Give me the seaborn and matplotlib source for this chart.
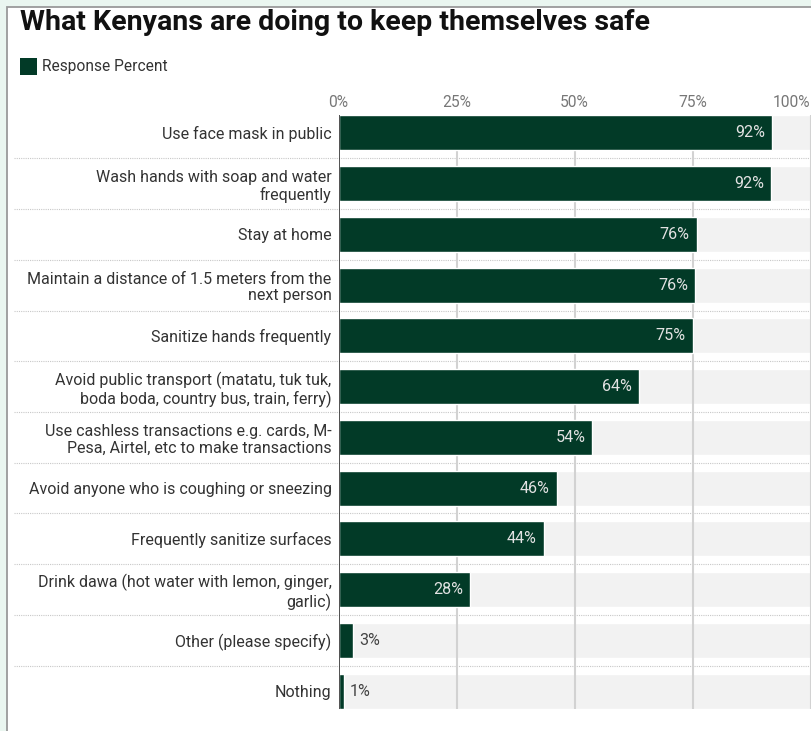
import matplotlib
matplotlib.use("Agg")
import matplotlib.pyplot as plt
import matplotlib.transforms as mtransforms
from matplotlib.patches import Rectangle
import seaborn as sns
import pandas as pd

categories = [
    "Use face mask in public",
    "Wash hands with soap and water\nfrequently",
    "Stay at home",
    "Maintain a distance of 1.5 meters from the\nnext person",
    "Sanitize hands frequently",
    "Avoid public transport (matatu, tuk tuk,\nboda boda, country bus, train, ferry)",
    "Use cashless transactions e.g. cards, M-\nPesa, Airtel, etc to make transactions",
    "Avoid anyone who is coughing or sneezing",
    "Frequently sanitize surfaces",
    "Drink dawa (hot water with lemon, ginger,\ngarlic)",
    "Other (please specify)",
    "Nothing",
]
values = [91.9, 91.6, 75.9, 75.6, 75.1, 63.6, 53.8, 46.2, 43.5, 27.9, 3.1, 1.1]
labels = ["92%", "92%", "76%", "76%", "75%", "64%", "54%", "46%", "44%", "28%", "3%", "1%"]
tick_values = [0, 25, 50, 75, 100]
tick_labels = ["0%", "25%", "50%", "75%", "100%"]
series_name = "Response Percent"
title = "What Kenyans are doing to keep themselves safe"

GREEN = "#023a27"
BG = "#f2f2f2"
FS = 11.2

sns.set_theme(style="white")
plt.rcParams["font.family"] = ["Roboto", "DejaVu Sans"]

W, H = 811, 731
fig = plt.figure(figsize=(W / 100, H / 100), dpi=100, facecolor="#eaf6f0")

# white panel
fig.patches.append(Rectangle((6.5 / W, -0.02), 1.2, (H - 6.5) / H + 0.02,
                             transform=fig.transFigure, facecolor="white",
                             edgecolor="#9a9a9a", linewidth=1.3, zorder=-5))

ax_left = 338.5 / W
ax_top = 107.6
ax_bot = 716.4
ax = fig.add_axes([ax_left, (H - ax_bot) / H, 1 - ax_left, (ax_bot - ax_top) / H])
ax.set_zorder(1)
ax.set_facecolor("none")

df = pd.DataFrame({"category": categories, "value": values})
df["full"] = 101.0

bw = 0.69
sns.barplot(data=df, x="full", y="category", color=BG, width=bw, ax=ax,
            saturation=1, zorder=1, orient="h")
sns.barplot(data=df, x="value", y="category", color=GREEN, width=bw, ax=ax,
            saturation=1, zorder=3, orient="h")

n = len(categories)
ax.set_xlim(0, 100.1)
ax.set_ylim(n - 0.5, -0.5)

# vertical gridlines
ax.vlines([25, 50, 75, 100], -bw / 2, n - 1 + bw / 2, color="#d2d2d2",
          linewidth=1.5, zorder=2)
ax.vlines([0], -bw / 2, n - 1 + bw / 2, color="#333333", linewidth=1.2, zorder=4)

# dotted separators
trans = mtransforms.blended_transform_factory(ax.transAxes, ax.transData)
x0 = (14 - 338.5) / (W - 338.5)
for i in range(n - 1):
    ax.plot([x0, 1.0], [i + 0.5, i + 0.5], transform=trans, clip_on=False,
            color="#c8c8c8", linestyle=(0, (1, 1)), linewidth=0.8, zorder=1)

# value labels
for i, (v, lab) in enumerate(zip(values, labels)):
    if v > 10:
        ax.text(v - 1.5, i, lab, ha="right", va="center", color="#e2e2e2",
                fontsize=11.6, zorder=5)
    else:
        ax.text(v + 1.3, i, lab, ha="left", va="center", color="#444444",
                fontsize=11.6, zorder=5)

# axes styling
for s in ax.spines.values():
    s.set_visible(False)
ax.set_xlabel("")
ax.set_ylabel("")
ax.xaxis.tick_top()
ax.set_xticks(tick_values)
ax.set_xticklabels(tick_labels)
ax.tick_params(axis="x", length=0, pad=-1.5, labelsize=FS, labelcolor="#777777")
ax.tick_params(axis="y", length=0, pad=5, labelsize=11.5, labelcolor="#333333")
xt = ax.get_xticklabels()
xt[-1].set_horizontalalignment("right")
for t in ax.get_yticklabels():
    t.set_linespacing(1.15)

# title
fig.text(20 / W, 1 - 23 / H, title, fontsize=20.5, fontweight="bold",
         color="#111111", ha="left", va="center")

# legend
fig.patches.append(Rectangle((20 / W, 1 - 75 / H), 17 / W, 17 / H,
                             transform=fig.transFigure, facecolor=GREEN,
                             edgecolor="none", zorder=2))
fig.text(42 / W, 1 - 66 / H, series_name, fontsize=FS, color="#333333",
         ha="left", va="center")

fig.savefig("out.png", dpi=100, facecolor=fig.get_facecolor())
